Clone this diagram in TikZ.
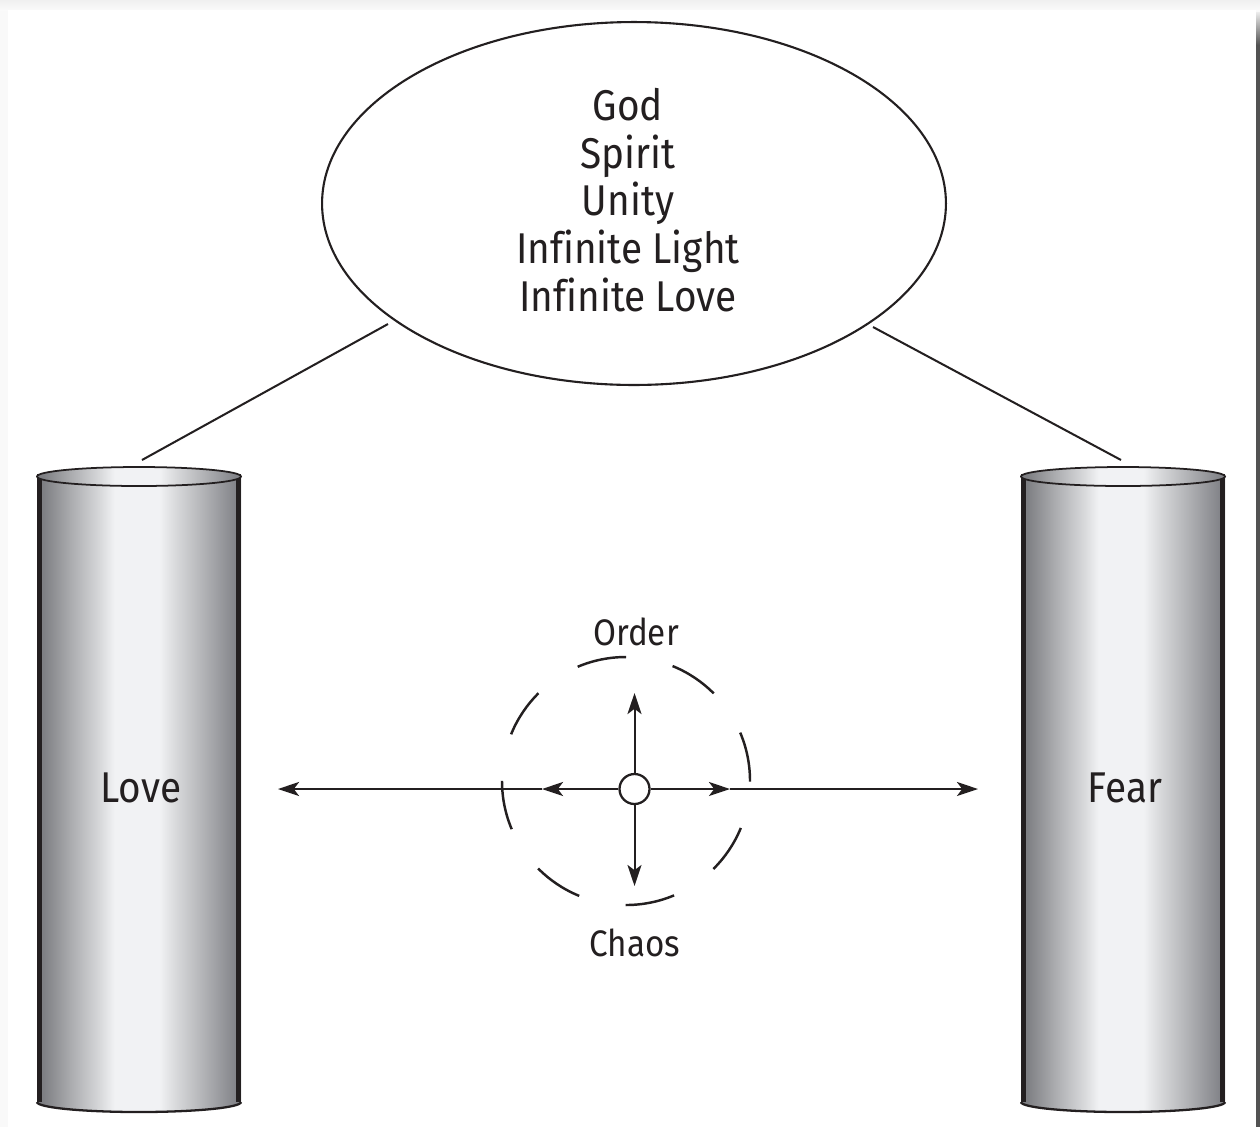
\documentclass[tikz,border=0pt]{standalone}
\usepackage{fontspec}
\setmainfont{Fira Sans}[FakeStretch=0.9,Ligatures=NoCommon]
\usetikzlibrary{arrows.meta,shapes.geometric}
\definecolor{ink}{HTML}{231F20}
\definecolor{cA}{HTML}{7E7F83}
\definecolor{cB}{HTML}{A9AAAD}
\definecolor{cC}{HTML}{D8D9DB}
\definecolor{cD}{HTML}{F1F2F4}
\definecolor{cF}{HTML}{B6B7BA}
\definecolor{cE}{HTML}{84858A}
\pgfdeclarehorizontalshading{cylshade}{100bp}{color(0bp)=(cA); color(26.5bp)=(cA); color(33bp)=(cB); color(40.5bp)=(cC); color(44bp)=(cD); color(55bp)=(cD); color(59bp)=(cC); color(65bp)=(cF); color(73.5bp)=(cE); color(100bp)=(cE)}
\newcommand\drawcyl[3]{%
  \shade[shading=cylshade] (#1,-476) -- (#1,-1102) arc[start angle=180,end angle=360,x radius=102,y radius=10] -- (#1+204,-476) -- cycle;
  \draw[ink, line width=2.8pt] (#1+2.5,-474) -- (#1+2.5,-1102);
  \draw[ink, line width=2.8pt] (#1+201.5,-474) -- (#1+201.5,-1102);
  \draw[ink, line width=1.3pt] (#1,-1102) arc[start angle=180,end angle=360,x radius=102,y radius=10];
  \shadedraw[shading=cylshade, draw=ink, line width=1pt] (#1+102,-476.5) ellipse[x radius=102, y radius=9.5];
  \node[bigtext] (#2) at (#1+104,-788) {#3};
}
\begin{document}
\begin{tikzpicture}[x=0.02cm,y=0.02cm,
  conn/.style={draw=ink, line width=1.15pt},
  tip/.style={-{Stealth[length=12pt,width=8pt,inset=3pt]}},
  bigtext/.style={font=\fontsize{24.5}{27.2}\selectfont, text=ink, inner sep=0pt},
  smalltext/.style={font=\fontsize{21}{24}\selectfont, text=ink, inner sep=0pt}]
\useasboundingbox (0,0) rectangle (1260,-1127);
% page background and shadows
\fill[gray!5] (0,0) rectangle (1260,-1127);
\shade[top color=gray!12, bottom color=gray!4] (0,0) rectangle (1260,-10);
\fill[white] (8,-10) rectangle (1256,-1127);
\shade[top color=gray!15, bottom color=black!68] (1256,-12) rectangle (1260,-45);
\fill[black!68] (1256,-45) rectangle (1260,-1127);
% top ellipse
\node[ellipse, draw=ink, line width=1.2pt, minimum width=12.48cm, minimum height=7.26cm, inner sep=0pt] (god) at (634,-203.5) {};
\node[bigtext, align=center] (godtext) at (628,-200) {God\\Spirit\\Unity\\Infinite Light\\Infinite Love};
% cylinders
\drawcyl{37}{love}{Love}
\drawcyl{1021}{fear}{Fear}
% connectors to ellipse
\coordinate (lovetop) at (142,-460);
\coordinate (godl) at (388,-324);
\coordinate (feartop) at (1121,-460);
\coordinate (godr) at (873,-327);
\draw[conn] (lovetop) -- (godl);
\draw[conn] (feartop) -- (godr);
% centre
\draw[ink, line width=1.4pt, dash pattern=on 28.3pt off 27.1pt] (626,-781) circle[radius=124];
\node[circle, draw=ink, fill=white, line width=1.3pt, minimum size=0.6cm, inner sep=0pt] (c) at (634.5,-789) {};
\coordinate (ml) at (542,-789);
\coordinate (lend) at (278,-789);
\coordinate (mr) at (730,-789);
\coordinate (rend) at (978,-789);
\coordinate (up) at (634.5,-693);
\coordinate (dn) at (634.5,-886);
\draw[conn, tip] (c) -- (ml);
\draw[conn, tip] (ml) -- (lend);
\draw[conn, tip] (c) -- (mr);
\draw[conn, tip] (mr) -- (rend);
\draw[conn, tip] (c) -- (up);
\draw[conn, tip] (c) -- (dn);
\node[smalltext] (order) at (636,-632) {Order};
\node[smalltext] (chaos) at (635,-943) {Chaos};
\end{tikzpicture}
\end{document}
